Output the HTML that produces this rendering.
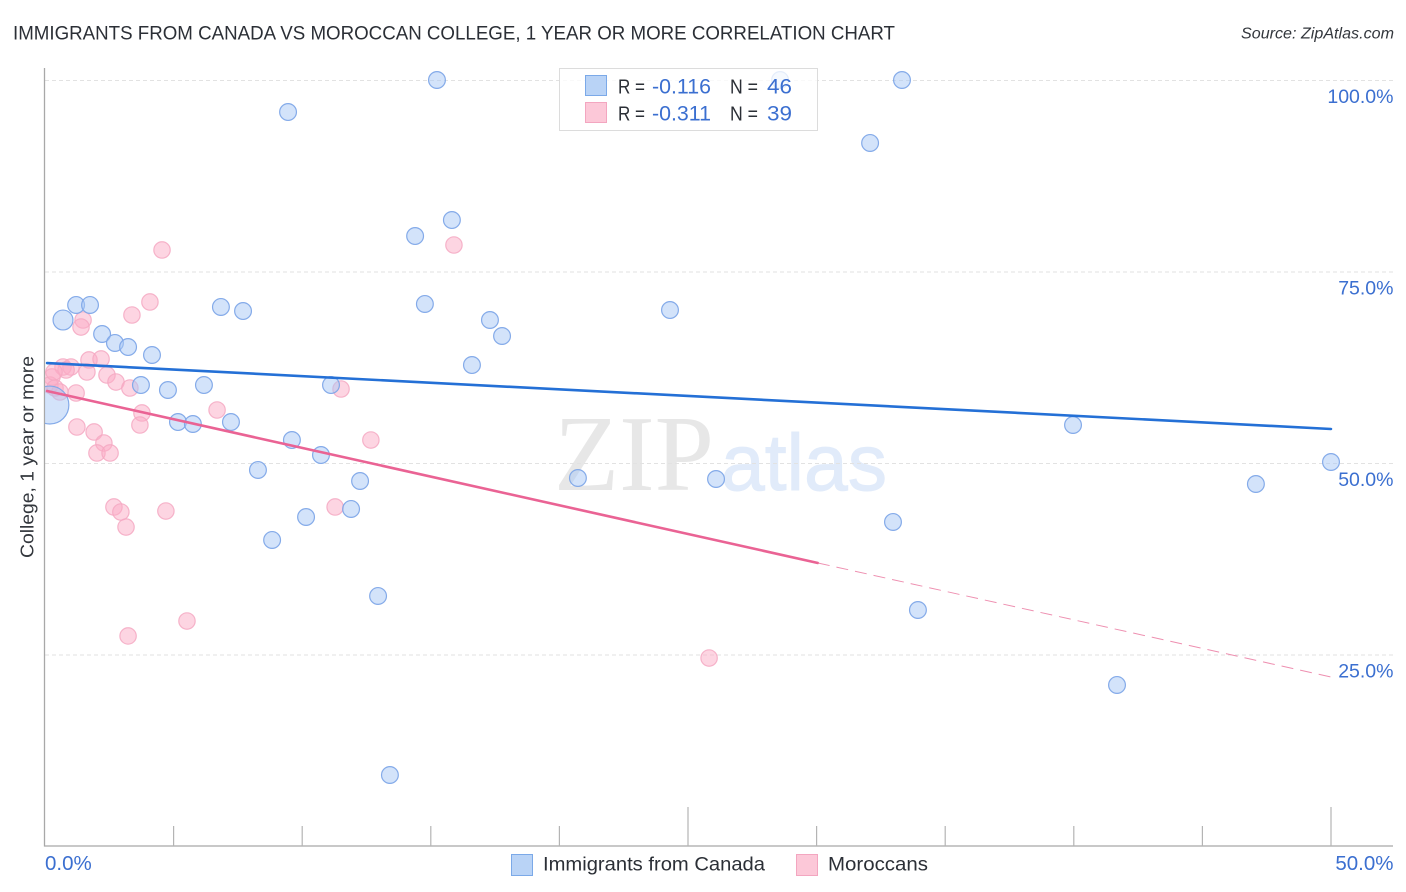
<!DOCTYPE html>
<html lang="en">
<head>
<meta charset="utf-8">
<title>Immigrants from Canada vs Moroccan College, 1 Year or More Correlation Chart</title>
<style>
html,body{margin:0;padding:0;background:#fff;}
svg{display:block;font-family:"Liberation Sans",Arial,sans-serif;}
</style>
</head>
<body>
<svg id="chart" xmlns="http://www.w3.org/2000/svg" width="1406" height="892" viewBox="0 0 1406 892">
  <defs>
    <clipPath id="plot-clip"><rect x="45" y="60" width="1348" height="786"/></clipPath>
  </defs>
  <rect width="1406" height="892" fill="#ffffff"/>
  <text x="13" y="39.5" font-size="19" fill="#2b2f36" textLength="882" lengthAdjust="spacingAndGlyphs">IMMIGRANTS FROM CANADA VS MOROCCAN COLLEGE, 1 YEAR OR MORE CORRELATION CHART</text>
  <text x="1241" y="38.5" font-size="15.5" font-style="italic" fill="#33373d" textLength="153" lengthAdjust="spacingAndGlyphs">Source: ZipAtlas.com</text>
  <g id="watermark">
    <text x="554" y="490" font-size="108" fill="#e7e7e7" style="font-family:'Liberation Serif',serif" textLength="160" lengthAdjust="spacingAndGlyphs">ZIP</text>
    <text x="721" y="490" font-size="80" fill="#e1ebfa" stroke="#e1ebfa" stroke-width="1" style="font-family:'Liberation Sans',Arial,sans-serif" textLength="166" lengthAdjust="spacingAndGlyphs">atlas</text>
  </g>
  <g id="grid"></g>
  <g id="axes"></g>
  <g id="ylabels"></g>
  <g id="xlabels"></g>
  <text transform="translate(33.5,457) rotate(-90)" text-anchor="middle" font-size="18.5" fill="#33373d" textLength="202" lengthAdjust="spacingAndGlyphs">College, 1 year or more</text>
  <g clip-path="url(#plot-clip)">
    <g id="pink-points"></g>
    <g id="blue-points"></g>
  </g>
  <g id="trends"></g>
  <g id="top-legend">
    <rect x="559.5" y="68.5" width="258" height="62" fill="#ffffff" fill-opacity="0.78" stroke="#dcdcdc" stroke-width="1"/>
    <rect x="585.5" y="75.5" width="21" height="20" fill="#b9d3f6" stroke="#7ba9e8" stroke-width="1"/>
    <rect x="585.5" y="102.5" width="21" height="20" fill="#fcc8d8" stroke="#f3a6c0" stroke-width="1"/>
    <text x="618" y="93.5" font-size="20" fill="#2b2f36" textLength="27" lengthAdjust="spacingAndGlyphs">R =</text>
    <text x="652" y="93.5" font-size="21" fill="#3b6fd0" textLength="59" lengthAdjust="spacingAndGlyphs">-0.116</text>
    <text x="730" y="93.5" font-size="20" fill="#2b2f36" textLength="28" lengthAdjust="spacingAndGlyphs">N =</text>
    <text x="767" y="93.5" font-size="21" fill="#3b6fd0" textLength="25" lengthAdjust="spacingAndGlyphs">46</text>
    <text x="618" y="120.5" font-size="20" fill="#2b2f36" textLength="27" lengthAdjust="spacingAndGlyphs">R =</text>
    <text x="652" y="120.5" font-size="21" fill="#3b6fd0" textLength="59" lengthAdjust="spacingAndGlyphs">-0.311</text>
    <text x="730" y="120.5" font-size="20" fill="#2b2f36" textLength="28" lengthAdjust="spacingAndGlyphs">N =</text>
    <text x="767" y="120.5" font-size="21" fill="#3b6fd0" textLength="25" lengthAdjust="spacingAndGlyphs">39</text>
  </g>
  <g id="bottom-legend">
    <rect x="511.5" y="854.5" width="21" height="21" fill="#b9d3f6" stroke="#7ba9e8" stroke-width="1"/>
    <text x="543" y="870.5" font-size="19.5" fill="#2b2f36" textLength="222" lengthAdjust="spacingAndGlyphs">Immigrants from Canada</text>
    <rect x="796.5" y="854.5" width="21" height="21" fill="#fcc8d8" stroke="#f3a6c0" stroke-width="1"/>
    <text x="828" y="870.5" font-size="19.5" fill="#2b2f36" textLength="100" lengthAdjust="spacingAndGlyphs">Moroccans</text>
  </g>
</svg>
<script>
const xTickValues = [0, 5, 10, 15, 20, 25, 30, 35, 40, 45, 50];
const xTickLabels = ["0.0%", "50.0%"];
const xTickLabelValues = [0, 50];
const yTickValues = [100, 75, 50, 25];
const yTickLabels = ["100.0%", "75.0%", "50.0%", "25.0%"];

const canadaX = [9.45,15.24,28.58,33.32,32.08,15.82,14.39,14.77,1.21,1.75,0.70,6.84,7.70,17.30,17.77,24.30,2.22,2.72,3.23,4.16,16.60,3.73,4.78,6.18,11.12,5.17,5.75,7.23,0.19,9.60,10.73,8.28,12.25,10.15,11.90,8.83,12.95,13.41,20.72,26.09,39.97,50,47.08,32.97,33.94,41.68];
const canadaY = [95.82,100,100,100,91.78,81.72,79.63,70.76,70.63,70.63,68.67,70.37,69.84,68.67,66.58,69.97,66.84,65.67,65.14,64.10,62.79,60.18,59.53,60.18,60.18,55.35,55.09,55.35,57.57,53.0,51.04,49.09,47.65,42.95,44.0,39.95,32.64,9.27,48.04,47.91,54.96,50.13,47.26,42.30,30.81,21.02];
const canadaWeight = [1,1,1,1,1,1,1,1,1,1,1.4,1,1,1,1,1,1,1,1,1,1,1,1,1,1,1,1,1,5.1,1,1,1,1,1,1,1,1,1,1,1,1,1,1,1,1,1];

const moroccansX = [4.55,15.90,4.08,3.38,1.48,1.40,0.70,1.01,0.82,1.71,2.18,1.63,2.41,2.76,3.30,11.51,1.21,0.27,0.19,0.39,0.58,3.77,3.69,6.69,1.24,1.91,2.29,2.02,2.53,12.67,2.68,2.95,3.15,4.70,11.28,3.23,5.52,25.82,0.35];
const moroccansY = [77.81,78.46,71.02,69.32,68.67,67.75,62.53,62.53,62.14,63.45,63.58,61.88,61.49,60.57,59.79,59.66,59.14,61.23,60.18,59.79,59.27,56.53,54.96,56.92,54.70,54.05,52.61,51.31,51.31,53.0,44.26,43.60,41.64,43.73,44.26,27.42,29.37,24.54,61.88];

const canadaTrendX = [0.08, 50];
const canadaTrendY = [63.05, 54.44];
const moroccansTrendX = [0.08, 30.05];
const moroccansTrendY = [59.4, 36.95];
const moroccansForecastX = [30.05, 50];
const moroccansForecastY = [36.95, 22.06];

const NS = "http://www.w3.org/2000/svg";
const xScale = v => 45 + v * 25.72;
const yScale = v => 80 + (100 - v) * 7.66;
const radiusOf = w => 8.4 * Math.sqrt(w);
const AXIS_X = 44.5, AXIS_Y = 846, RIGHT = 1393;

function mk(parent, tag, attrs, text) {
  const el = document.createElementNS(NS, tag);
  for (const k in attrs) el.setAttribute(k, attrs[k]);
  if (text !== undefined) el.textContent = text;
  document.getElementById(parent).appendChild(el);
  return el;
}

yTickValues.forEach((v, i) => {
  const g = mk("grid", "line", {x1: 45, x2: RIGHT, y1: yScale(v) + 0.5, y2: yScale(v) + 0.5, stroke: "#e2e2e2", "stroke-width": 1, "stroke-dasharray": "4 3"});
  
  
  const t = mk("ylabels", "text", {x: 1393.5, y: yScale(v) + 23, "text-anchor": "end", "font-size": 19.5, fill: "#3b6fd0"}, yTickLabels[i]);
  
  
});

const yAxis = mk("axes", "line", {x1: AXIS_X, x2: AXIS_X, y1: 68, y2: AXIS_Y + 0.5, stroke: "#a8a8a8", "stroke-width": 1.3});


const xAxis = mk("axes", "line", {x1: 44, x2: RIGHT, y1: AXIS_Y, y2: AXIS_Y, stroke: "#a8a8a8", "stroke-width": 1.3});



xTickValues.forEach(v => {
  if (v === 0) return;
  const major = v % 25 === 0;
  const tick = mk("axes", "line", {x1: xScale(v), x2: xScale(v), y1: major ? 807 : 826, y2: AXIS_Y, stroke: "#b4b4b4", "stroke-width": 1.2});
  
  
});

xTickLabelValues.forEach((v, i) => {
  const t = mk("xlabels", "text", {x: v === 0 ? 45 : 1393.5, y: 870, "text-anchor": v === 0 ? "start" : "end", "font-size": 20.5, fill: "#3b6fd0"}, xTickLabels[i]);
  
  
});

moroccansX.forEach((v, i) => {
  const c = mk("pink-points", "circle", {cx: xScale(v), cy: yScale(moroccansY[i]), r: 8.2, fill: "#fbabc5", "fill-opacity": 0.5, stroke: "#f4a8c2", "stroke-opacity": 0.85, "stroke-width": 1.2});
  
  
});

canadaX.forEach((v, i) => {
  const c = mk("blue-points", "circle", {cx: xScale(v), cy: yScale(canadaY[i]), r: radiusOf(canadaWeight[i]), fill: "#a8c8f5", "fill-opacity": 0.5, stroke: "#7ea6e8", "stroke-opacity": 0.95, "stroke-width": 1.2});
  
  
});

const canadaLine = mk("trends", "line", {x1: xScale(canadaTrendX[0]), y1: yScale(canadaTrendY[0]), x2: xScale(canadaTrendX[1]), y2: yScale(canadaTrendY[1]), stroke: "#2470d6", "stroke-width": 2.6, "stroke-linecap": "round"});


const moroccansLine = mk("trends", "line", {x1: xScale(moroccansTrendX[0]), y1: yScale(moroccansTrendY[0]), x2: xScale(moroccansTrendX[1]), y2: yScale(moroccansTrendY[1]), stroke: "#ea6394", "stroke-width": 2.6, "stroke-linecap": "round"});


const moroccansDash = mk("trends", "line", {x1: xScale(moroccansForecastX[0]), y1: yScale(moroccansForecastY[0]), x2: xScale(moroccansForecastX[1]), y2: yScale(moroccansForecastY[1]), stroke: "#ee8fb0", "stroke-width": 1, "stroke-dasharray": "12 7"});


</script>
</body>
</html>
